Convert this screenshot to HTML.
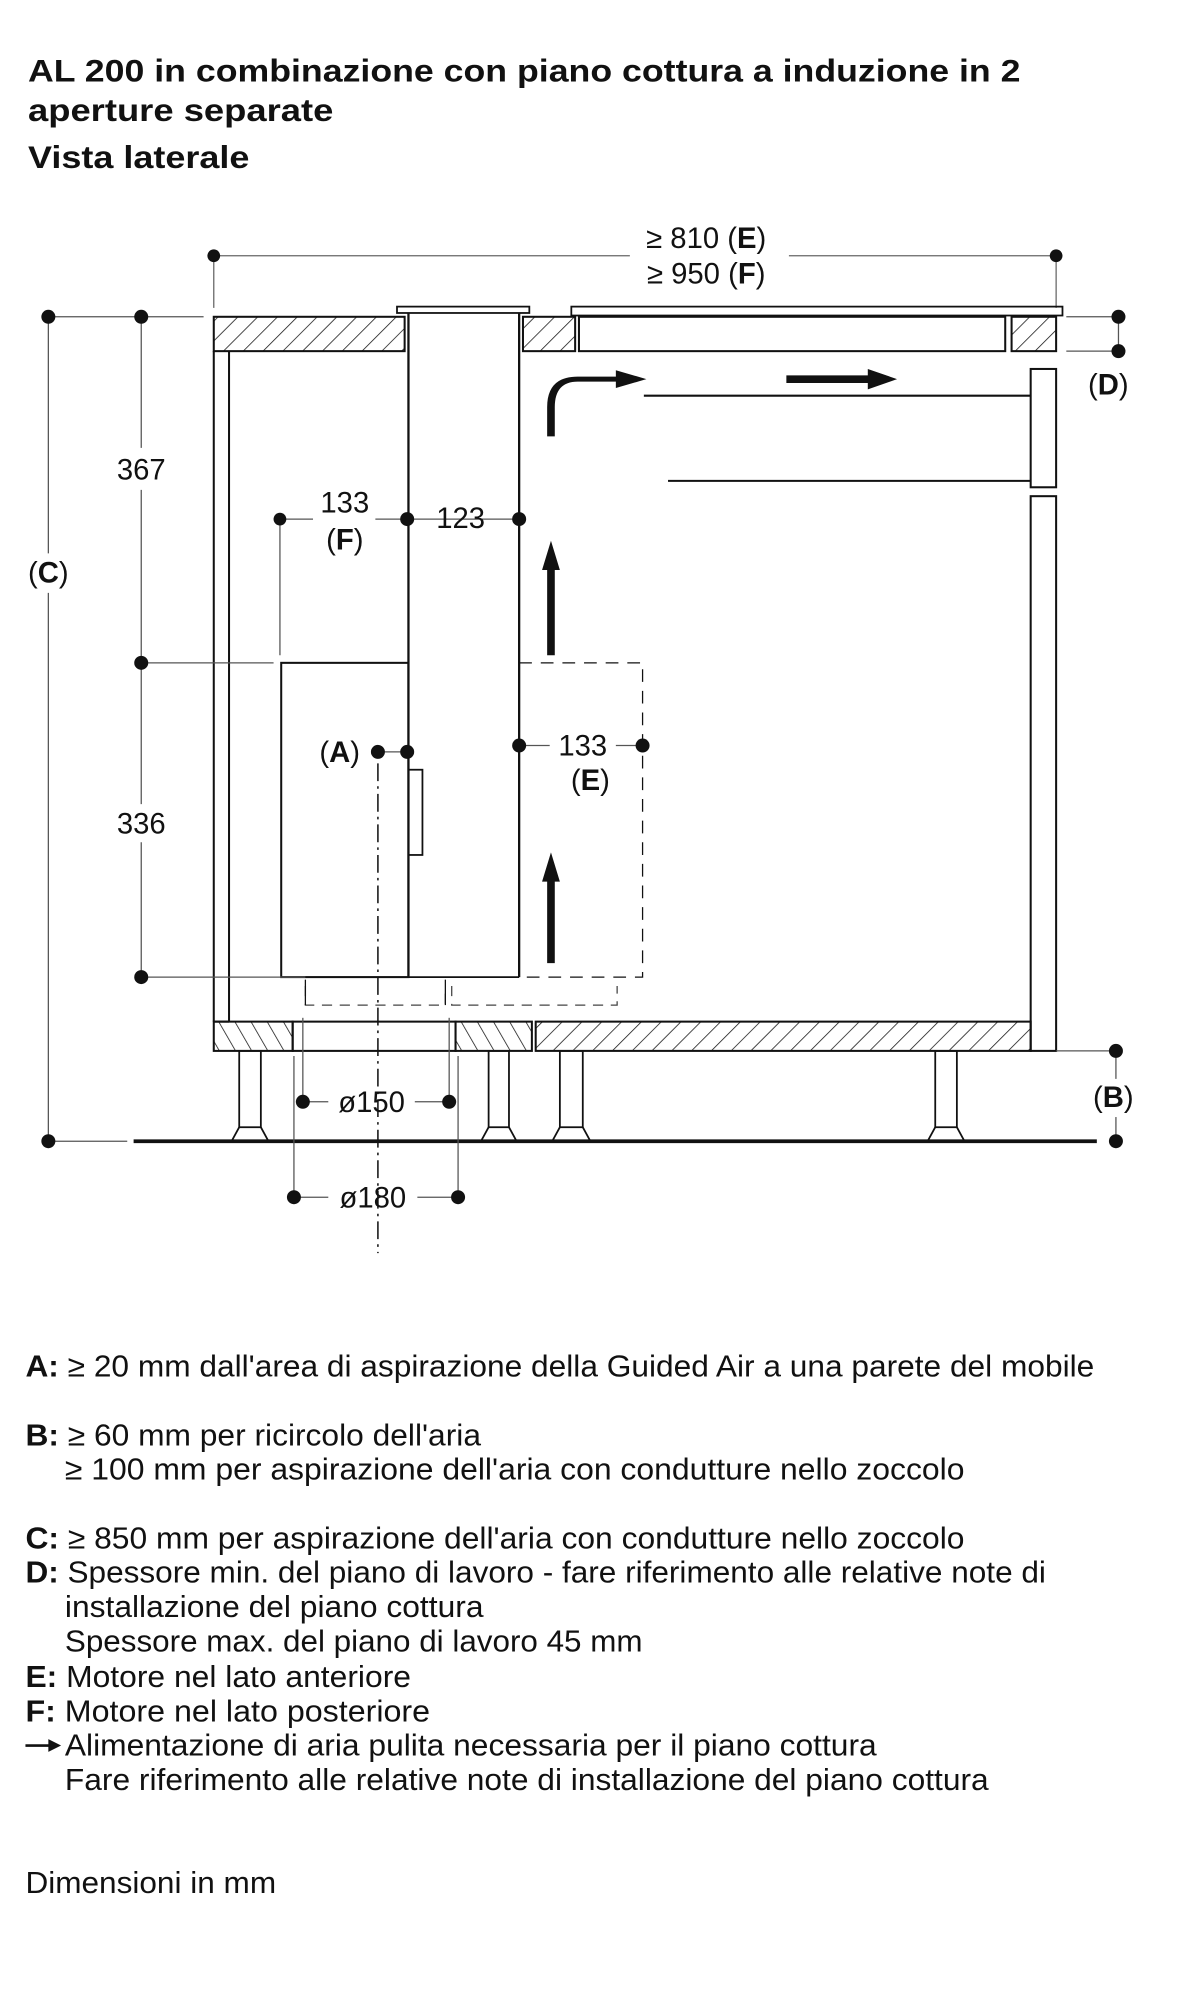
<!DOCTYPE html>
<html><head><meta charset="utf-8"><style>
html,body{margin:0;padding:0;background:#fff;}
svg{display:block;}
text{font-family:"Liberation Sans",Arial,sans-serif;fill:#111;}
</style></head><body>
<svg width="1191" height="2000" viewBox="0 0 936 1572" preserveAspectRatio="none" xmlns="http://www.w3.org/2000/svg">
<defs>
<pattern id="h" patternUnits="userSpaceOnUse" width="11" height="11" patternTransform="rotate(45)">
<line x1="0" y1="0" x2="0" y2="11" stroke="#111" stroke-width="1.2"/>
</pattern>
<pattern id="h2" patternUnits="userSpaceOnUse" width="11" height="11" patternTransform="rotate(-30)">
<line x1="0" y1="0" x2="0" y2="11" stroke="#111" stroke-width="1.2"/>
</pattern>
</defs>
<rect width="936" height="1572" fill="#fff"/>
<!-- titles -->
<text x="22" y="64" font-size="25" font-weight="bold" textLength="780" lengthAdjust="spacingAndGlyphs">AL 200 in combinazione con piano cottura a induzione in 2</text>
<text x="22" y="95" font-size="25" font-weight="bold" textLength="240" lengthAdjust="spacingAndGlyphs">aperture separate</text>
<text x="22" y="132" font-size="25" font-weight="bold" textLength="174" lengthAdjust="spacingAndGlyphs">Vista laterale</text>

<g stroke="#111" fill="none">
<line x1="168" y1="201" x2="495" y2="201" stroke="#666" stroke-width="1"/>
<line x1="620" y1="201" x2="830" y2="201" stroke="#666" stroke-width="1"/>
<line x1="168" y1="201" x2="168" y2="242" stroke="#666"/>
<line x1="830" y1="201" x2="830" y2="242" stroke="#666"/>
<rect x="168" y="249" width="150" height="27" fill="url(#h)" stroke-width="1.6"/>
<rect x="312" y="241" width="104" height="5" stroke-width="1.4"/>
<rect x="411" y="249" width="41" height="27" fill="url(#h)" stroke-width="1.6"/>
<rect x="449" y="241" width="386" height="7" stroke-width="1.4"/>
<rect x="455" y="249" width="335" height="27" stroke-width="1.6"/>
<rect x="795" y="249" width="35" height="27" fill="url(#h)" stroke-width="1.6"/>
<line x1="321" y1="246" x2="321" y2="768" stroke-width="1.8"/>
<line x1="408" y1="246" x2="408" y2="768" stroke-width="1.8"/>
<line x1="321" y1="768" x2="408" y2="768" stroke-width="1.4"/>
<line x1="168" y1="276" x2="168" y2="803" stroke-width="1.6"/>
<line x1="180" y1="276" x2="180" y2="803" stroke-width="1.6"/>
<line x1="168" y1="803" x2="180" y2="803" stroke-width="1.6"/>
<rect x="810" y="290" width="20" height="93" stroke-width="1.6"/>
<rect x="810" y="390" width="20" height="436" stroke-width="1.6"/>
<line x1="506" y1="311" x2="810" y2="311" stroke-width="1.6"/>
<line x1="525" y1="378" x2="810" y2="378" stroke-width="1.6"/>
<rect x="221" y="521" width="100" height="247" stroke-width="1.6"/>
<rect x="321" y="605" width="11" height="67" stroke-width="1.4"/>
<path d="M408 521 H505 V768 H408" stroke-dasharray="10 7" stroke-width="1"/>
<path d="M355 775 V790 H485 V775 M240 775 V790 H350 V775" stroke-dasharray="8 6" stroke-width="1" stroke="#444"/>
<line x1="240" y1="770" x2="240" y2="790" stroke-width="1"/>
<line x1="350" y1="770" x2="350" y2="790" stroke-width="1"/>
<rect x="168" y="803" width="62" height="23" fill="url(#h2)" stroke-width="1.6"/>
<rect x="230" y="803" width="128" height="23" stroke-width="1.6"/>
<rect x="358" y="803" width="60" height="23" fill="url(#h2)" stroke-width="1.6"/>
<rect x="421" y="803" width="389" height="23" fill="url(#h)" stroke-width="1.6"/>
<g stroke-width="1.4">
<rect x="188" y="826" width="17" height="60"/><path d="M188 886 L182 897 H211 L205 886"/>
<rect x="384" y="826" width="16" height="60"/><path d="M384 886 L378 897 H406 L400 886"/>
<rect x="440" y="826" width="18" height="60"/><path d="M440 886 L434 897 H464 L458 886"/>
<rect x="735" y="826" width="17" height="60"/><path d="M735 886 L729 897 H758 L752 886"/>
</g>
<line x1="105" y1="897" x2="862" y2="897" stroke-width="3"/>
<line x1="297" y1="600" x2="297" y2="985" stroke-width="1.2" stroke-dasharray="14 4 2 4"/>
<g stroke="#555" stroke-width="1">
<line x1="38" y1="249" x2="38" y2="435"/><line x1="38" y1="466" x2="38" y2="897"/>
<line x1="38" y1="249" x2="160" y2="249"/>
<line x1="38" y1="897" x2="100" y2="897"/>
<line x1="111" y1="249" x2="111" y2="352"/><line x1="111" y1="385" x2="111" y2="632"/><line x1="111" y1="662" x2="111" y2="768"/>
<line x1="111" y1="521" x2="215" y2="521"/>
<line x1="111" y1="768" x2="240" y2="768"/>
<line x1="220" y1="408" x2="246" y2="408"/><line x1="295" y1="408" x2="408" y2="408"/>
<line x1="220" y1="408" x2="220" y2="515"/>
<line x1="297" y1="591" x2="320" y2="591"/>
<line x1="408" y1="586" x2="432" y2="586"/><line x1="484" y1="586" x2="505" y2="586"/>
<line x1="238" y1="800" x2="238" y2="866"/><line x1="353" y1="800" x2="353" y2="866"/>
<line x1="238" y1="866" x2="258" y2="866"/><line x1="326" y1="866" x2="353" y2="866"/>
<line x1="231" y1="830" x2="231" y2="941"/><line x1="360" y1="830" x2="360" y2="941"/>
<line x1="231" y1="941" x2="258" y2="941"/><line x1="328" y1="941" x2="360" y2="941"/>
<line x1="838" y1="249" x2="879" y2="249"/><line x1="838" y1="276" x2="879" y2="276"/>
<line x1="879" y1="249" x2="879" y2="276"/>
<line x1="830" y1="826" x2="877" y2="826"/>
<line x1="877" y1="826" x2="877" y2="848"/><line x1="877" y1="878" x2="877" y2="897"/>
</g>
</g>
<g fill="#111" stroke="none">
<path d="M430 343 V320 Q430 296 454 296 H484 V291 L508 298 L484 305 V300 H454 Q436 300 436 320 V343 Z"/>
<path d="M618 295 H682 V290 L705 298 L682 306 V301 H618 Z"/>
<path d="M430 515 V448 H426 L433 425 L440 448 H436 V515 Z"/>
<path d="M430 757 V693 H426 L433 670 L440 693 H436 V757 Z"/>
<path d="M20 1371 H38 V1367 L48 1372 L38 1377 V1373 H20 Z"/>
</g>
<g fill="#111">
<circle cx="168" cy="201" r="5"/><circle cx="830" cy="201" r="5"/>
<circle cx="38" cy="249" r="5.5"/><circle cx="38" cy="897" r="5.5"/>
<circle cx="111" cy="249" r="5.5"/><circle cx="111" cy="521" r="5.5"/><circle cx="111" cy="768" r="5.5"/>
<circle cx="220" cy="408" r="5"/><circle cx="320" cy="408" r="5.5"/><circle cx="408" cy="408" r="5.5"/>
<circle cx="297" cy="591" r="5.5"/><circle cx="320" cy="591" r="5.5"/>
<circle cx="408" cy="586" r="5.5"/><circle cx="505" cy="586" r="5.5"/>
<circle cx="238" cy="866" r="5.5"/><circle cx="353" cy="866" r="5.5"/>
<circle cx="231" cy="941" r="5.5"/><circle cx="360" cy="941" r="5.5"/>
<circle cx="879" cy="249" r="5.5"/><circle cx="879" cy="276" r="5.5"/>
<circle cx="877" cy="826" r="5.5"/><circle cx="877" cy="897" r="5.5"/>
</g>
<g font-size="23">
<text x="555" y="195" text-anchor="middle">≥ 810 (<tspan font-weight="bold">E</tspan>)</text>
<text x="555" y="223" text-anchor="middle">≥ 950 (<tspan font-weight="bold">F</tspan>)</text>
<text x="38" y="458" text-anchor="middle">(<tspan font-weight="bold">C</tspan>)</text>
<text x="111" y="377" text-anchor="middle">367</text>
<text x="111" y="655" text-anchor="middle">336</text>
<text x="271" y="403" text-anchor="middle">133</text>
<text x="271" y="432" text-anchor="middle">(<tspan font-weight="bold">F</tspan>)</text>
<text x="362" y="415" text-anchor="middle">123</text>
<text x="267" y="599" text-anchor="middle">(<tspan font-weight="bold">A</tspan>)</text>
<text x="458" y="594" text-anchor="middle">133</text>
<text x="464" y="621" text-anchor="middle">(<tspan font-weight="bold">E</tspan>)</text>
<text x="292" y="874" text-anchor="middle">ø150</text>
<text x="293" y="949" text-anchor="middle">ø180</text>
<text x="871" y="310" text-anchor="middle">(<tspan font-weight="bold">D</tspan>)</text>
<text x="875" y="870" text-anchor="middle">(<tspan font-weight="bold">B</tspan>)</text>
</g>
<g font-size="24">
<text x="20" y="1082" textLength="840" lengthAdjust="spacingAndGlyphs"><tspan font-weight="bold">A:</tspan> ≥ 20 mm dall'area di aspirazione della Guided Air a una parete del mobile</text>
<text x="20" y="1136" textLength="358" lengthAdjust="spacingAndGlyphs"><tspan font-weight="bold">B:</tspan> ≥ 60 mm per ricircolo dell'aria</text>
<text x="51" y="1163" textLength="707" lengthAdjust="spacingAndGlyphs">≥ 100 mm per aspirazione dell'aria con condutture nello zoccolo</text>
<text x="20" y="1217" textLength="738" lengthAdjust="spacingAndGlyphs"><tspan font-weight="bold">C:</tspan> ≥ 850 mm per aspirazione dell'aria con condutture nello zoccolo</text>
<text x="20" y="1244" textLength="802" lengthAdjust="spacingAndGlyphs"><tspan font-weight="bold">D:</tspan> Spessore min. del piano di lavoro - fare riferimento alle relative note di</text>
<text x="51" y="1271" textLength="329" lengthAdjust="spacingAndGlyphs">installazione del piano cottura</text>
<text x="51" y="1298" textLength="454" lengthAdjust="spacingAndGlyphs">Spessore max. del piano di lavoro 45 mm</text>
<text x="20" y="1326" textLength="303" lengthAdjust="spacingAndGlyphs"><tspan font-weight="bold">E:</tspan> Motore nel lato anteriore</text>
<text x="20" y="1353" textLength="318" lengthAdjust="spacingAndGlyphs"><tspan font-weight="bold">F:</tspan> Motore nel lato posteriore</text>
<text x="51" y="1380" textLength="638" lengthAdjust="spacingAndGlyphs">Alimentazione di aria pulita necessaria per il piano cottura</text>
<text x="51" y="1407" textLength="726" lengthAdjust="spacingAndGlyphs">Fare riferimento alle relative note di installazione del piano cottura</text>
<text x="20" y="1488" textLength="197" lengthAdjust="spacingAndGlyphs">Dimensioni in mm</text>
</g>
</svg>
</body></html>
